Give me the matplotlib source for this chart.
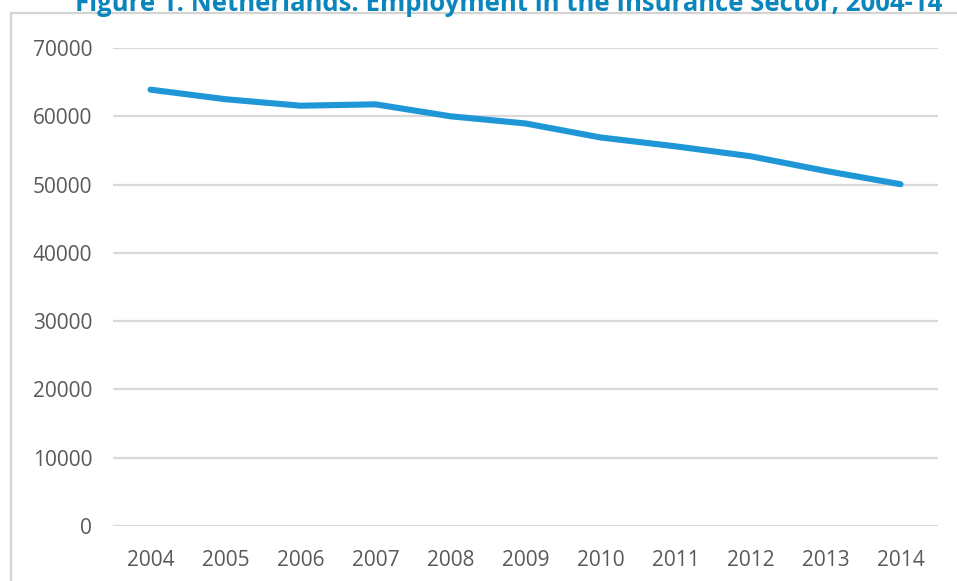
import matplotlib
matplotlib.use("Agg")
import matplotlib.pyplot as plt
from matplotlib.patches import Rectangle

years = ["2004", "2005", "2006", "2007", "2008", "2009", "2010", "2011", "2012", "2013", "2014"]
employment = [63900, 62500, 61550, 61750, 60000, 58950, 56900, 55600, 54150, 52000, 50050]
yticks = [0, 10000, 20000, 30000, 40000, 50000, 60000, 70000]
title = "Figure 1: Netherlands: Employment in the Insurance Sector, 2004-14"

W, H = 957, 581
fig = plt.figure(figsize=(W / 100, H / 100), dpi=100)
fig.patch.set_facecolor("white")

# outer frame (light gray border)
fig.patches.append(Rectangle((11 / W, -0.1), 1.2, (H - 13) / H + 0.1,
                             transform=fig.transFigure, fill=False,
                             edgecolor="#d4d4d4", linewidth=1.6, zorder=0))

left, right = 113 / W, 938 / W
bottom, top = (H - 526) / H, (H - 48) / H
ax = fig.add_axes([left, bottom, right - left, top - bottom])

x = list(range(len(years)))
ax.plot(x, employment, color="#1f97d7", linewidth=4.4,
        solid_capstyle="round", solid_joinstyle="round", zorder=3)

ax.set_xlim(-0.5, len(years) - 0.5)
ax.set_ylim(0, 70000)
ax.set_yticks(yticks)
ax.set_yticklabels([str(v) for v in yticks])
ax.set_xticks(x)
ax.set_xticklabels(years)

for s in ax.spines.values():
    s.set_visible(False)
ax.grid(axis="y", color="#d9d9d9", linewidth=1.6, zorder=0)
ax.set_axisbelow(True)
ax.tick_params(axis="both", length=0, labelsize=15, labelcolor="#595959")
ax.tick_params(axis="y", pad=15)
ax.tick_params(axis="x", pad=17)
for lab in ax.get_xticklabels() + ax.get_yticklabels():
    lab.set_fontfamily("Open Sans")

fig.text(75 / W, (H - 11) / H, title, ha="left", va="baseline",
         fontsize=18.5, fontweight="bold", color="#0b86bd",
         fontfamily="Open Sans")

fig.savefig("out.png", dpi=100, facecolor="white")
